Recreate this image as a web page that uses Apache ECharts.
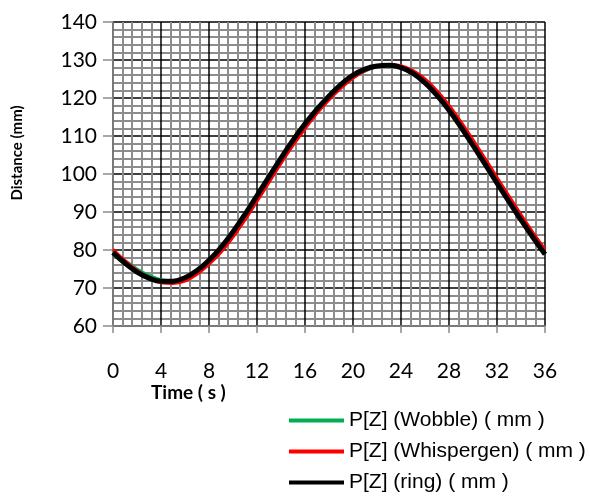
<!DOCTYPE html>
<html>
<head>
<meta charset="utf-8">
<script src="https://cdn.jsdelivr.net/npm/echarts@6/dist/echarts.min.js"></script>
<style>
  html, body { margin: 0; padding: 0; background: #fff; }
  #chart { width: 590px; height: 498px; }
</style>
</head>
<body>
<div id="chart"></div>
<script>
// time in seconds, one point per second
const times = [0, 1, 2, 3, 4, 5, 6, 7, 8, 9, 10, 11, 12, 13, 14, 15, 16, 17, 18,
  19, 20, 21, 22, 23, 24, 25, 26, 27, 28, 29, 30, 31, 32, 33, 34, 35, 36]

const wobble = [79.6, 77.2, 75.0, 73.3, 72.2, 71.9, 72.6, 74.4, 77.1, 80.5, 84.6, 89.2,
  94.0, 98.9, 103.8, 108.4, 112.7, 116.5, 119.8, 122.8, 125.3, 127.1, 128.2, 128.5,
  128.0, 126.6, 124.2, 121.0, 117.1, 112.6, 107.8, 102.9, 97.9, 93.0, 88.2, 83.6, 79.2]

const whispergen = [80.2, 77.2, 74.7, 72.8, 71.4, 71.2, 71.8, 73.6, 76.2, 79.4, 83.4, 87.9,
  92.8, 97.8, 102.8, 107.5, 111.9, 116.0, 119.5, 122.6, 125.2, 127.2, 128.3, 128.8,
  128.5, 127.2, 125.0, 121.9, 118.1, 113.7, 109.0, 104.1, 99.1, 94.2, 89.3, 84.6, 80.2]

const ring = [79.3, 76.5, 74.2, 72.6, 71.8, 71.8, 72.7, 74.6, 77.3, 80.7, 84.8, 89.4,
  94.3, 99.3, 104.2, 108.9, 113.2, 117.1, 120.5, 123.6, 126.0, 127.6, 128.4, 128.6,
  128.0, 126.5, 124.0, 120.7, 116.8, 112.3, 107.5, 102.6, 97.6, 92.7, 87.9, 83.3, 78.9]

const seriesNames = ['P[Z] (Wobble) ( mm )', 'P[Z] (Whispergen) ( mm )', 'P[Z] (ring) ( mm )']
const seriesColors = ['#00b050', '#ff0000', '#000000']

const pairs = (vals) => times.map((t, i) => [t, vals[i]])

const chart = echarts.init(document.getElementById('chart'))

const tickFont = { color: '#000', fontFamily: 'Lato', fontSize: 21 }

const option = {
  animation: false,
  backgroundColor: '#fff',
  grid: { left: 113, right: 45, top: 22, bottom: 172 },
  legend: {
    orient: 'vertical',
    left: 289,
    top: 410,
    padding: 0,
    itemWidth: 55,
    itemHeight: 4,
    itemGap: 10,
    icon: 'rect',
    data: seriesNames,
    textStyle: { fontFamily: 'Liberation Sans', fontSize: 21, color: '#000' },
  },
  xAxis: {
    type: 'value',
    min: 0,
    max: 36,
    interval: 4,
    axisLine: { lineStyle: { color: '#8c8c8c', width: 1.5 } },
    axisTick: { show: true, length: 7, lineStyle: { color: '#8c8c8c', width: 1.5 } },
    axisLabel: { ...tickFont, margin: 35 },
    splitLine: { show: true, lineStyle: { color: '#000', width: 1.5 } },
    minorTick: { show: false, splitNumber: 5 },
    minorSplitLine: { show: true, lineStyle: { color: '#8c8c8c', width: 2 } },
  },
  yAxis: {
    type: 'value',
    min: 60,
    max: 140,
    interval: 10,
    axisLine: { show: true, lineStyle: { color: '#8c8c8c', width: 1.5 } },
    axisTick: { show: true, length: 10, lineStyle: { color: '#8c8c8c', width: 1.5 } },
    axisLabel: { ...tickFont, margin: 16 },
    splitLine: { show: true, lineStyle: { color: '#000', width: 1.5 } },
    minorTick: { show: false, splitNumber: 5 },
    minorSplitLine: { show: true, lineStyle: { color: '#8c8c8c', width: 2 } },
  },
  graphic: [
    {
      type: 'text',
      left: 151,
      top: 383,
      style: { text: 'Time ( s )', font: 'bold 19px Lato', fill: '#000' },
    },
    {
      type: 'text',
      x: 17,
      y: 153,
      rotation: Math.PI / 2,
      style: {
        text: 'Distance (mm)',
        font: 'bold 15px Lato',
        fill: '#000',
        align: 'center',
        verticalAlign: 'middle',
      },
    },
  ],
  series: [
    { name: seriesNames[0], data: pairs(wobble), width: 3 },
    { name: seriesNames[1], data: pairs(whispergen), width: 3 },
    { name: seriesNames[2], data: pairs(ring), width: 5 },
  ].map((s, i) => ({
    name: s.name,
    type: 'line',
    data: s.data,
    smooth: 0.4,
    showSymbol: false,
    symbol: 'none',
    color: seriesColors[i],
    lineStyle: { color: seriesColors[i], width: s.width },
  })),
}

chart.setOption(option)
</script>
</body>
</html>
